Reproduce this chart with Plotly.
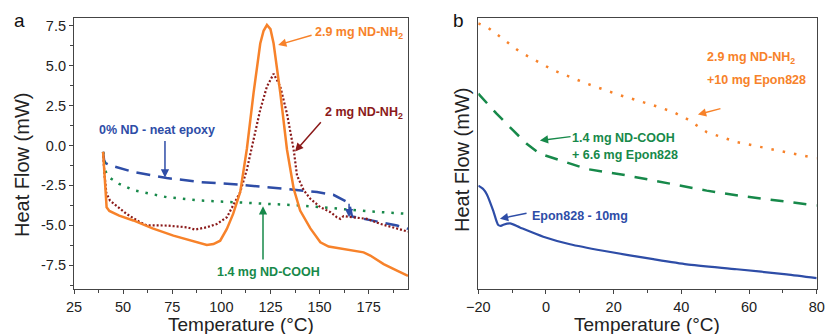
import plotly.graph_objects as go

# ---------- Panel a data ----------
t_nh2_29 = [39.8, 40.5, 41.6, 43, 48, 55.2, 65, 75.6, 85, 92.6, 96, 99.4, 102.8, 106, 109.6, 112, 113, 116.4, 119.8, 121.5,
            123.2, 125, 126.6, 130, 133.4, 136.8, 140.1, 145.3, 150.4, 154.6, 160, 165.6, 172.4, 175.8, 182.6, 189.4, 195]
hf_nh2_29 = [-0.4, -2.0, -3.87, -4.1, -4.4, -4.7, -5.2, -5.65, -6.0, -6.24, -6.18, -5.97, -5.23, -4.29, -2.92, -0.82, -0.2,
             3.3, 6.4, 7.2, 7.56, 7.3, 6.4, 3.3, -0.25, -2.7, -4.08, -5.2, -6.07, -6.34, -6.45, -6.55, -6.7, -6.9, -7.44, -7.85, -8.17]

t_nh2_2 = [39.8, 40.5, 41.5, 43.3, 51.8, 58.6, 62, 72.2, 82.4, 86.6, 92.6, 97.7, 102.8, 106, 109.6, 113, 116.4, 119.8,
           123.2, 126.6, 130, 133.4, 136.8, 138.5, 141.9, 145.3, 150.4, 155.5, 158.8, 160.6, 162.2, 167.3, 174.1, 181,
           187.7, 195]
hf_nh2_2 = [-0.4, -1.8, -3.0, -3.45, -4.29, -4.81, -5.0, -5.02, -5.13, -5.27, -5.13, -4.92, -4.5, -3.76, -2.92, -1.5,
            0.37, 2.25, 3.7, 4.5, 3.7, 2.0, -0.25, -1.87, -2.8, -3.34, -3.87, -4.18, -4.5, -4.6, -4.43, -4.5, -4.6, -4.92,
            -5.13, -5.4]

t_neat = [39.8, 40.3, 41, 43.3, 55.2, 72.2, 89.2, 109.6, 131.7, 148.7, 157, 162, 165, 166.5, 174.1, 182.6, 189.4, 195]
hf_neat = [-0.4, -0.9, -1.1, -1.24, -1.66, -2.04, -2.29, -2.46, -2.71, -2.92, -3.09, -3.4, -3.6, -4.45, -4.64, -4.85,
           -5.02, -5.23]

t_cooh = [39.8, 40.3, 41, 42.5, 48, 55.2, 72.2, 89.2, 106, 123, 140, 157, 174, 195]
hf_cooh = [-0.4, -1.0, -1.6, -1.97, -2.4, -2.8, -3.24, -3.45, -3.55, -3.66, -3.76, -3.93, -4.12, -4.29]

# ---------- Panel b data ----------
t_b_nh2 = [-20, -17.5, -7.7, 2.2, 12, 21.9, 31.7, 37.6, 41.6, 47.5, 56.4, 66.2, 78.5, 80]
hf_b_nh2 = [98, 96.8, 87.5, 80.7, 75.8, 71.5, 67.8, 65.3, 62.8, 57.9, 54.2, 51.7, 48.6, 48.2]

t_b_cooh = [-20, -14.6, -9.7, -5.7, -1.8, 4.1, 7.1, 12, 23.9, 31.7, 39.6, 47.5, 57.3, 65.2, 78, 80]
hf_b_cooh = [72.1, 64.7, 58.5, 53.6, 49.9, 47.4, 46.2, 44.3, 41.9, 40.0, 38.1, 36.3, 34.4, 33.2, 31.1, 30.8]

t_b_epon = [-20, -18.5, -17.5, -15.6, -14.6, -14.1, -13.3, -12.6, -10.6, -7.7, -0.8, 7.1, 16.9, 31.7, 41.6, 56.4, 71.1, 80]
hf_b_epon = [38.1, 36.8, 35, 28.9, 25.0, 23.6, 23.3, 23.7, 24.2, 22.7, 19.3, 16.5, 14.1, 11.0, 9.1, 7.3, 5.4, 4.0]

ORANGE = "#F7822A"
DRED = "#8B1A1A"
BLUE = "#2E4DA7"
GREEN = "#17894A"

fig = go.Figure()

# panel a traces
fig.add_trace(go.Scatter(x=t_neat, y=hf_neat, mode="lines", xaxis="x", yaxis="y",
                         line=dict(color=BLUE, width=2.5, dash="14px,8px")))
fig.add_trace(go.Scatter(x=t_cooh, y=hf_cooh, mode="lines", xaxis="x", yaxis="y",
                         line=dict(color=GREEN, width=2.5, dash="2.5px,7px")))
fig.add_trace(go.Scatter(x=t_nh2_2, y=hf_nh2_2, mode="lines", xaxis="x", yaxis="y",
                         line=dict(color=DRED, width=2.2, dash="2px,2px")))
fig.add_trace(go.Scatter(x=t_nh2_29, y=hf_nh2_29, mode="lines", xaxis="x", yaxis="y",
                         line=dict(color=ORANGE, width=2.5)))

# panel b traces
fig.add_trace(go.Scatter(x=t_b_nh2, y=hf_b_nh2, mode="lines", xaxis="x2", yaxis="y2",
                         line=dict(color=ORANGE, width=2.5, dash="2.5px,9px")))
fig.add_trace(go.Scatter(x=t_b_cooh, y=hf_b_cooh, mode="lines", xaxis="x2", yaxis="y2",
                         line=dict(color=GREEN, width=2.5, dash="13px,10px")))
fig.add_trace(go.Scatter(x=t_b_epon, y=hf_b_epon, mode="lines", xaxis="x2", yaxis="y2",
                         line=dict(color=BLUE, width=2.2, shape="spline", smoothing=0.6)))

FONT = "Liberation Sans, Arial, sans-serif"
axis_common = dict(showline=True, linecolor="#444", linewidth=1.2, mirror=True, showgrid=False, zeroline=False,
                   automargin=False, tickcolor="#444", ticklen=4,
                   tickfont=dict(size=14.5, color="#222", family=FONT))
minor_style = dict(ticks="outside", ticklen=2.5, tickcolor="#444")

YDOM = [1 - 289 / 334, 1 - 18 / 334]

fig.update_layout(
    width=828, height=334, margin=dict(l=0, r=0, t=0, b=0),
    paper_bgcolor="white", plot_bgcolor="white", showlegend=False,
    xaxis=dict(domain=[74 / 828, 408 / 828], range=[25, 195], tickvals=[25, 50, 75, 100, 125, 150, 175],
               ticks="outside", minor=dict(dtick=12.5, tick0=25, **minor_style), anchor="y", **axis_common),
    yaxis=dict(domain=YDOM, range=[-9, 8],
               tickvals=[-7.5, -5, -2.5, 0, 2.5, 5, 7.5], ticktext=["-7.5", "-5.0", "-2.5", "0.0", "2.5", "5.0", "7.5"],
               ticks="outside", minor=dict(dtick=1.25, tick0=0, **minor_style), anchor="x", **axis_common),
    xaxis2=dict(domain=[478.3 / 828, 816.7 / 828], range=[-20, 80], tickvals=[-20, 0, 20, 40, 60, 80],
                ticks="outside", minor=dict(dtick=10, tick0=-20, **minor_style), anchor="y2", **axis_common),
    yaxis2=dict(domain=YDOM, range=[0, 100], showticklabels=False, ticks="", anchor="x2", **axis_common),
)


def label(xr, yr, x, y, text, color, xanchor="center"):
    fig.add_annotation(xref=xr, yref=yr, x=x, y=y, text="<b>" + text + "</b>", showarrow=False,
                       font=dict(size=12.5, color=color, family=FONT), xanchor=xanchor, yanchor="middle")


def arrow(xr, yr, x0, y0, x1, y1, color):
    fig.add_annotation(xref=xr, yref=yr, axref=xr, ayref=yr, x=x1, y=y1, ax=x0, ay=y0, text="",
                       showarrow=True, arrowhead=2, arrowsize=1.1, arrowwidth=1.5, arrowcolor=color)


def title(x, y, text, angle=0, size=20):
    fig.add_annotation(xref="paper", yref="paper", x=x / 828, y=1 - y / 334, text=text, showarrow=False,
                       textangle=angle, font=dict(size=size, color="#222", family=FONT),
                       xanchor="center", yanchor="middle", borderpad=0)


# axis titles
title(241, 324.5, "Temperature (°C)", size=19)
title(647, 324.5, "Temperature (°C)", size=19)
title(22, 165, "Heat Flow (mW)", -90)
title(462, 160, "Heat Flow (mW)", -90)

# panel a annotations
label("x", "y", 170.1, 7.06, "2.9 mg ND-NH<sub>2</sub>", ORANGE)
arrow("x", "y", 146.7, 6.94, 128.9, 6.31, ORANGE)
label("x", "y", 172.7, 2.06, "2 mg ND-NH<sub>2</sub>", DRED)
arrow("x", "y", 151.3, 1.56, 137.5, -0.375, DRED)
label("x", "y", 67.3, 1.0, "0% ND - neat epoxy", BLUE)
arrow("x", "y", 71.3, 0.375, 71.3, -2.0, BLUE)
label("x", "y", 123.8, -7.94, "1.4 mg ND-COOH", GREEN)
arrow("x", "y", 121.2, -7.25, 121.2, -3.81, GREEN)
arrow("x", "y", 165, -3.56, 165, -4.5, BLUE)

# panel b annotations
label("x2", "y2", 47, 85.2, "2.9 mg ND-NH<sub>2</sub>", ORANGE, "left")
label("x2", "y2", 47, 77.0, "+10 mg Epon828", ORANGE, "left")
arrow("x2", "y2", 52, 66.7, 44.9, 64.4, ORANGE)
label("x2", "y2", 7.1, 55.9, "1.4 mg ND-COOH", GREEN, "left")
label("x2", "y2", 7.1, 49.6, "+ 6.6 mg Epon828", GREEN, "left")
arrow("x2", "y2", 7.7, 56.3, -1.8, 54.8, GREEN)
label("x2", "y2", -4.7, 27, "Epon828 - 10mg", BLUE, "left")
arrow("x2", "y2", -5.3, 28.1, -13.6, 25.9, BLUE)

# panel letters
fig.add_annotation(xref="paper", yref="paper", x=12 / 828, y=1 - 20 / 334, text="a", showarrow=False,
                   font=dict(size=19, color="#111", family=FONT), xanchor="left", yanchor="middle")
fig.add_annotation(xref="paper", yref="paper", x=451 / 828, y=1 - 20 / 334, text="b", showarrow=False,
                   font=dict(size=19, color="#111", family=FONT), xanchor="left", yanchor="middle")

fig.write_html("out.html")
